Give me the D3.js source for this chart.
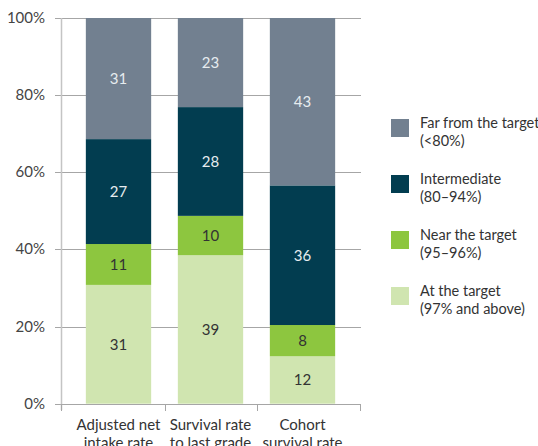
<!DOCTYPE html>
<html>
<head>
<meta charset="utf-8">
<script src="https://cdn.jsdelivr.net/npm/d3@7"></script>
<style>
  html, body { margin: 0; padding: 0; background: #fff; }
  svg { display: block; }
  text { font-family: Lato, "Open Sans", sans-serif; }
</style>
</head>
<body>
<svg id="chart" width="538" height="446"></svg>
<script>
const categories = [["Adjusted net", "intake rate"], ["Survival rate", "to last grade"], ["Cohort", "survival rate"]];
const seriesNames = ["At the target", "Near the target", "Intermediate", "Far from the target"];
const seriesRanges = ["(97% and above)", "(95–96%)", "(80–94%)", "(<80%)"];
const atTarget   = [30.8, 38.5, 12.3];
const nearTarget = [10.6, 10.2, 8.1];
const intermediate = [27.2, 28.2, 36.2];
const farTarget  = [31.4, 23.1, 43.4];
const yTicks = [0, 20, 40, 60, 80, 100];

const colors = ["#d0e5b0", "#8dc63f", "#023d50", "#728090"];
const labelColors = ["#333333", "#333333", "#e6ecef", "#e6ecef"];

const svg = d3.select("#chart");
const seriesValues = [atTarget, nearTarget, intermediate, farTarget];
const keys = categories.map(c => c.join(" "));
const rows = keys.map((k, i) => {
  const r = { key: k };
  seriesNames.forEach((s, j) => r[s] = seriesValues[j][i]);
  return r;
});

const x = d3.scaleBand().domain(keys).range([61, 360]).paddingInner(0.29).paddingOuter(0.27);
const y = d3.scaleLinear().domain([0, 100]).range([403.7, 18]);

// gridlines
svg.append("g").selectAll("line").data(yTicks).join("line")
  .attr("x1", 55).attr("x2", 361)
  .attr("y1", d => Math.round(y(d)) + 0.5).attr("y2", d => Math.round(y(d)) + 0.5)
  .attr("stroke", "#a6a6a6").attr("stroke-width", 1);

// y axis line
svg.append("line").attr("x1", 61.5).attr("x2", 61.5).attr("y1", y(100)).attr("y2", 410)
  .attr("stroke", "#c4c4c4").attr("stroke-width", 1.5);

// y tick labels
svg.append("g").selectAll("text").data(yTicks).join("text")
  .attr("x", 45).attr("y", d => y(d) + 5)
  .attr("text-anchor", "end").attr("font-size", 15).attr("fill", "#444")
  .text(d => d + "%");

// bars
const stack = d3.stack().keys(seriesNames)(rows);
stack.forEach((layer, j) => {
  const g = svg.append("g");
  g.selectAll("rect").data(layer).join("rect")
    .attr("x", d => x(d.data.key))
    .attr("width", x.bandwidth())
    .attr("y", d => y(d[1]))
    .attr("height", d => y(d[0]) - y(d[1]))
    .attr("fill", colors[j]);
  g.selectAll("text").data(layer).join("text")
    .attr("x", d => x(d.data.key) + x.bandwidth() / 2)
    .attr("y", d => (y(d[0]) + y(d[1])) / 2 + 5.5)
    .attr("text-anchor", "middle").attr("font-size", 15)
    .attr("fill", labelColors[j])
    .text(d => Math.round(d[1] - d[0]));
});

// x axis line and ticks
svg.append("line").attr("x1", 61).attr("x2", 361).attr("y1", 404.5).attr("y2", 404.5)
  .attr("stroke", "#a6a6a6").attr("stroke-width", 1);
const step = x.step();
const bounds = [61, x(keys[0]) + x.bandwidth() + (step - x.bandwidth()) / 2, x(keys[1]) + x.bandwidth() + (step - x.bandwidth()) / 2, 360];
svg.append("g").selectAll("line").data(bounds).join("line")
  .attr("x1", d => Math.round(d) + 0.5).attr("x2", d => Math.round(d) + 0.5)
  .attr("y1", 404).attr("y2", 411)
  .attr("stroke", "#a6a6a6").attr("stroke-width", 1);

// category labels
const catG = svg.append("g");
categories.forEach((c, i) => {
  const t = catG.append("text")
    .attr("x", x(keys[i]) + x.bandwidth() / 2)
    .attr("y", 430)
    .attr("text-anchor", "middle").attr("font-size", 15).attr("fill", "#333");
  c.forEach((line, k) => t.append("tspan").attr("x", x(keys[i]) + x.bandwidth() / 2).attr("dy", k === 0 ? 0 : 18).text(line));
});

// legend
const legendOrder = [3, 2, 1, 0];
const lg = svg.append("g");
legendOrder.forEach((j, i) => {
  const top = 119 + i * 56;
  lg.append("rect").attr("x", 391).attr("y", top).attr("width", 18).attr("height", 18).attr("fill", colors[j]);
  const t = lg.append("text").attr("x", 420).attr("y", top + 9).attr("font-size", 14.5).attr("fill", "#333");
  t.append("tspan").attr("x", 420).attr("dy", 0).text(seriesNames[j]);
  t.append("tspan").attr("x", 420).attr("dy", 18).text(seriesRanges[j]);
});
</script>
</body>
</html>
